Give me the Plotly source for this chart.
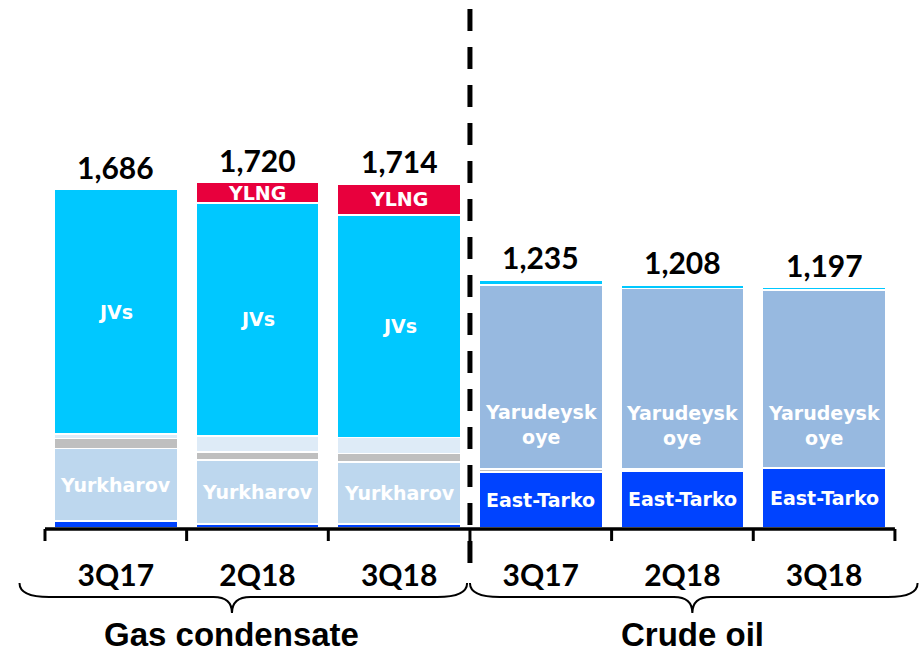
import plotly.graph_objects as go

# ---------------- data ----------------
quarters = ["3Q17", "2Q18", "3Q18", "3Q17", "2Q18", "3Q18"]
groups = ["Gas condensate", "Crude oil"]
totals = [1686, 1720, 1714, 1235, 1208, 1197]

gas_base = [35, 20, 20, None, None, None]
east_tarko = [None, None, None, 280, 285, 300]
yurkharov = [362, 318, 310, None, None, None]
other_grey = [50, 40, 40, 15, 10, None]
other_light = [20, 80, 80, None, None, None]
yarudeyskoye = [None, None, None, 915, 898, 885]
jvs = [1219, 1162, 1109, 25, 15, 12]
ylng = [None, 100, 155, None, None, None]

series = [
    ("Gas other", gas_base, "#0043FF"),
    ("East-Tarko", east_tarko, "#0043FF"),
    ("Yurkharov", yurkharov, "#BDD7EE"),
    ("Other", other_grey, "#BFBFBF"),
    ("Other fields", other_light, "#DEEBF7"),
    ("Yarudeyskoye", yarudeyskoye, "#97B9E0"),
    ("JVs", jvs, "#00C8FF"),
    ("YLNG", ylng, "#E8003D"),
]

# label text per series, which bars, and relative vertical position inside segment
seg_labels = {
    "Yurkharov": ("Yurkharov", [0, 1, 2], 0.5),
    "JVs": ("JVs", [0, 1, 2], 0.5),
    "YLNG": ("YLNG", [1, 2], 0.5),
    "East-Tarko": ("East-Tarko", [3, 4, 5], 0.5),
    "Yarudeyskoye": ("Yarudeysk<br>oye", [3, 4, 5], 0.24),
}

x = list(range(len(quarters)))

fig = go.Figure()
for name, vals, color in series:
    fig.add_trace(go.Bar(
        x=x, y=vals, name=name,
        marker=dict(color=color, line=dict(color="white", width=1.5)),
        hoverinfo="name+y",
    ))

annotations = []
# segment labels
cum = [0.0] * len(x)
for name, vals, color in series:
    for i in x:
        v = vals[i] or 0
        if name in seg_labels and i in seg_labels[name][1] and v:
            txt, _, frac = seg_labels[name]
            annotations.append(dict(
                x=i, y=cum[i] + v * frac, xref="x", yref="y",
                text=f"<b>{txt}</b>", showarrow=False,
                font=dict(family="DejaVu Sans", size=19, color="white"),
            ))
        cum[i] += v

# totals
for i, t in enumerate(totals):
    annotations.append(dict(
        x=i, y=t, xref="x", yref="y", text=f"<b>{t:,}</b>",
        showarrow=False, yanchor="middle", yshift=23,
        font=dict(family="Lato", size=30, color="black"),
    ))

# group labels
PH = 528.0  # plot height in px


def py(p):
    return (PH - p) / PH


group_centers = [0.82, 4.07]
for g, cx in zip(groups, group_centers):
    annotations.append(dict(
        x=cx, y=py(634), xref="x", yref="paper", text=f"<b>{g}</b>",
        showarrow=False, yanchor="middle", borderpad=0,
        font=dict(family="Liberation Sans", size=33, color="black"),
    ))

shapes = []
# baseline axis line
shapes.append(dict(type="line", xref="x", yref="paper", x0=-0.5, x1=5.5,
                   y0=py(529), y1=py(529), line=dict(color="black", width=3.5)))
# boundary ticks
for b in [-0.5, 0.5, 1.5, 2.5, 3.5, 4.5, 5.5]:
    shapes.append(dict(type="line", xref="x", yref="paper", x0=b, x1=b,
                       y0=py(529), y1=py(541), line=dict(color="black", width=3)))
# dashed separator
shapes.append(dict(type="line", xref="x", yref="paper", x0=2.5, x1=2.5,
                   y0=py(9), y1=py(563),
                   line=dict(color="black", width=5, dash="22px,16px")))


def brace(x0, x1, xc, ye, yh, yc, ew=0.21, cw=0.13):
    return (f"M {x0},{ye} Q {x0},{yh} {x0+ew},{yh} L {xc-cw},{yh} "
            f"Q {xc},{yh} {xc},{yc} Q {xc},{yh} {xc+cw},{yh} "
            f"L {x1-ew},{yh} Q {x1},{yh} {x1},{ye}")


for (a, b, c) in [(-0.68, 2.48, 0.82), (2.50, 5.66, 4.07)]:
    shapes.append(dict(type="path", xref="x", yref="paper",
                       path=brace(a, b, c, py(583), py(597), py(613)),
                       line=dict(color="black", width=2)))

fig.update_layout(
    width=919, height=653,
    barmode="stack", bargap=0.13,
    showlegend=False,
    plot_bgcolor="white", paper_bgcolor="white",
    margin=dict(l=10, r=0, t=0, b=125),
    xaxis=dict(range=[-0.747, 5.670], tickmode="array", tickvals=x,
               ticktext=[f"<b>{q}</b>" for q in quarters], ticks="",
               showline=False, showgrid=False, zeroline=False,
               ticklabelstandoff=27,
               tickfont=dict(family="Lato", size=30, color="black")),
    yaxis=dict(range=[0, 2630], visible=False, showgrid=False),
    annotations=annotations,
    shapes=shapes,
)

fig.write_html("out.html", config={"displayModeBar": False},
               post_script="document.body.style.margin='0';document.body.style.overflow='hidden';")
